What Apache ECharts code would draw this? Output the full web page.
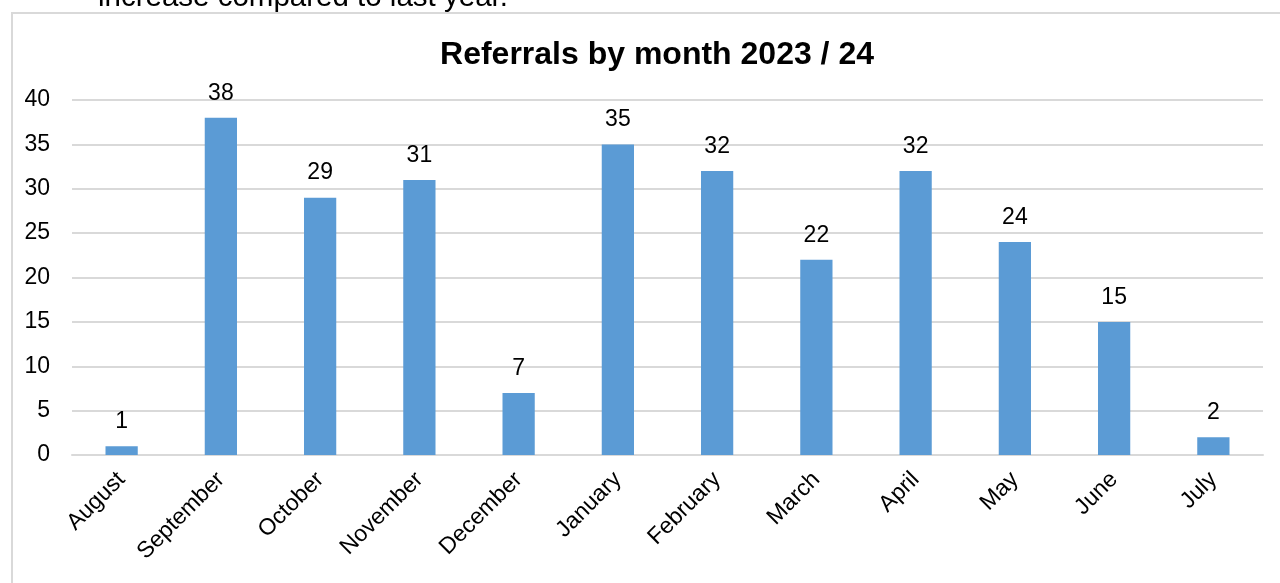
<!DOCTYPE html>
<html><head><meta charset="utf-8">
<script src="https://cdn.jsdelivr.net/npm/echarts@6/dist/echarts.min.js"></script>
<style>html,body{margin:0;padding:0;background:#fff}#c{width:1280px;height:583px}</style>
</head><body><div id="c"></div>
<script>
const months = ['August','September','October','November','December','January','February','March','April','May','June','July'];
const referrals = [1,38,29,31,7,35,32,22,32,24,15,2];
const yTicks = [0,5,10,15,20,25,30,35,40];
const FONT = 'Liberation Sans, Arial, sans-serif';
const chart = echarts.init(document.getElementById('c'), null, {renderer:'canvas'});
chart.setOption({
  animation:false,
  textStyle:{fontFamily:FONT},
  title:{text:'Referrals by month 2023 / 24', left:652, textAlign:'center', top:34,
    textStyle:{fontSize:32, fontWeight:'bold', color:'#000', fontFamily:FONT}},
  graphic:[
    {type:'rect', shape:{x:12, y:13, width:1275, height:600}, style:{fill:'none', stroke:'#d9d9d9', lineWidth:2}, silent:true},
    {type:'text', x:98, y:-2, style:{text:'increase compared to last year.', fontSize:29.5, fill:'#000', fontFamily:FONT, verticalAlign:'middle', align:'left'}}
  ],
  grid:{left:72, right:17, top:100, bottom:128, containLabel:false},
  xAxis:{type:'category', data:months,
    axisLine:{show:true, lineStyle:{color:'#d9d9d9', width:2}},
    axisTick:{show:false},
    axisLabel:{rotate:45, fontSize:23, color:'#000', margin:21, interval:0, fontFamily:FONT}},
  yAxis:{type:'value', min:yTicks[0], max:yTicks[yTicks.length-1], interval:5,
    axisLine:{show:false}, axisTick:{show:false},
    axisLabel:{fontSize:23, color:'#000', margin:22, fontFamily:FONT, padding:[4,0,0,0]},
    splitLine:{lineStyle:{color:'#d9d9d9', width:2}}},
  series:[{type:'bar', data:referrals, barWidth:'32.5%',
    itemStyle:{color:'#5b9bd5'},
    label:{show:true, position:'top', distance:13, fontSize:23, color:'#000', fontFamily:FONT}}]
});
</script></body></html>
